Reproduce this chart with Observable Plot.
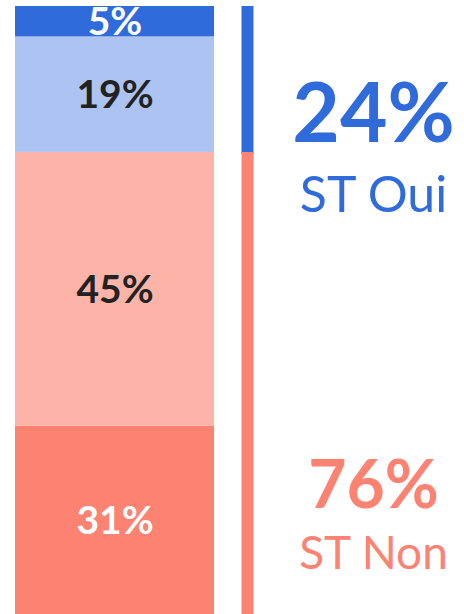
<!DOCTYPE html>
<html>
<head>
<meta charset="utf-8">
<script src="https://cdn.jsdelivr.net/npm/d3@7"></script>
<script src="https://cdn.jsdelivr.net/npm/@observablehq/plot@0.6"></script>
<style>
  html, body { margin: 0; padding: 0; background: #ffffff; }
  #chart svg { display: block; overflow: visible; }
</style>
</head>
<body>
<div id="chart"></div>
<script>
// Data (bottom to top)
const categories = ["Tout à fait non", "Plutôt non", "Plutôt oui", "Tout à fait oui"];
const values = [31, 45, 19, 5];
const groupOf = ["ST Non", "ST Non", "ST Oui", "ST Oui"];

const groups = ["ST Non", "ST Oui"];
const groupTotals = [76, 24];

// Palette
const palette = ["#FC8272", "#FDB4A8", "#ADC3F1", "#306BDC"];
const groupPalette = { "ST Non": "#FC8272", "ST Oui": "#306BDC" };
const darkLabels = new Set(["Plutôt non", "Plutôt oui"]);

const segs = categories.map((c, i) => ({ bar: "Total", category: c, value: values[i], group: groupOf[i] }));
const totals = groups.map((g, i) => ({ bar: "Total", group: g, value: groupTotals[i] }));

const isOui = d => d.group === "ST Oui";
const isNon = d => d.group === "ST Non";

const chart = Plot.plot({
  width: 464,
  height: 614,
  marginTop: 6,
  marginBottom: 0,
  marginLeft: 15,
  marginRight: 250,
  style: { fontFamily: "Lato, 'Open Sans', sans-serif", background: "white", overflow: "visible" },
  x: { domain: ["Total"], padding: 0, axis: null },
  y: { domain: [0, 100], axis: null },
  color: { domain: categories, range: palette },
  marks: [
    Plot.barY(segs, { x: "bar", y: "value", fill: "category" }),
    Plot.text(segs, Plot.stackY({
      x: "bar", y: "value",
      text: d => d.value + "%",
      fill: d => darkLabels.has(d.category) ? "#222222" : "#ffffff",
      fontSize: 39, fontWeight: "bold", lineAnchor: "middle", dy: 1
    })),
    // group rules
    Plot.ruleX(totals, Plot.filter(isOui, Plot.stackY({
      x: "bar", y: "value",
      stroke: d => groupPalette[d.group], strokeWidth: 12, dx: 132.5, insetTop: 2
    }))),
    Plot.ruleX(totals, Plot.filter(isNon, Plot.stackY({
      x: "bar", y: "value",
      stroke: d => groupPalette[d.group], strokeWidth: 12, dx: 132.5, insetTop: 8
    }))),
    // ST Oui texts (anchored at the lower bound of the group)
    Plot.text(totals, Plot.filter(isOui, Plot.stackY1({
      x: "bar", y: "value",
      text: d => d.value + "%", fill: d => groupPalette[d.group],
      fontSize: 82, fontWeight: "bold", lineAnchor: "bottom", dx: 258.5, dy: -10
    }))),
    Plot.text(totals, Plot.filter(isOui, Plot.stackY1({
      x: "bar", y: "value",
      text: "group", fill: d => groupPalette[d.group],
      fontSize: 50, lineAnchor: "bottom", dx: 258.5, dy: 60
    }))),
    // ST Non texts
    Plot.text(totals, Plot.filter(isNon, Plot.stackY1({
      x: "bar", y: "value",
      text: d => d.value + "%", fill: d => groupPalette[d.group],
      fontSize: 66, fontWeight: "bold", lineAnchor: "bottom", dx: 258.5, dy: -107
    }))),
    Plot.text(totals, Plot.filter(isNon, Plot.stackY1({
      x: "bar", y: "value",
      text: "group", fill: d => groupPalette[d.group],
      fontSize: 46, lineAnchor: "bottom", dx: 258.5, dy: -46
    })))
  ]
});
document.getElementById("chart").appendChild(chart);
</script>
</body>
</html>
